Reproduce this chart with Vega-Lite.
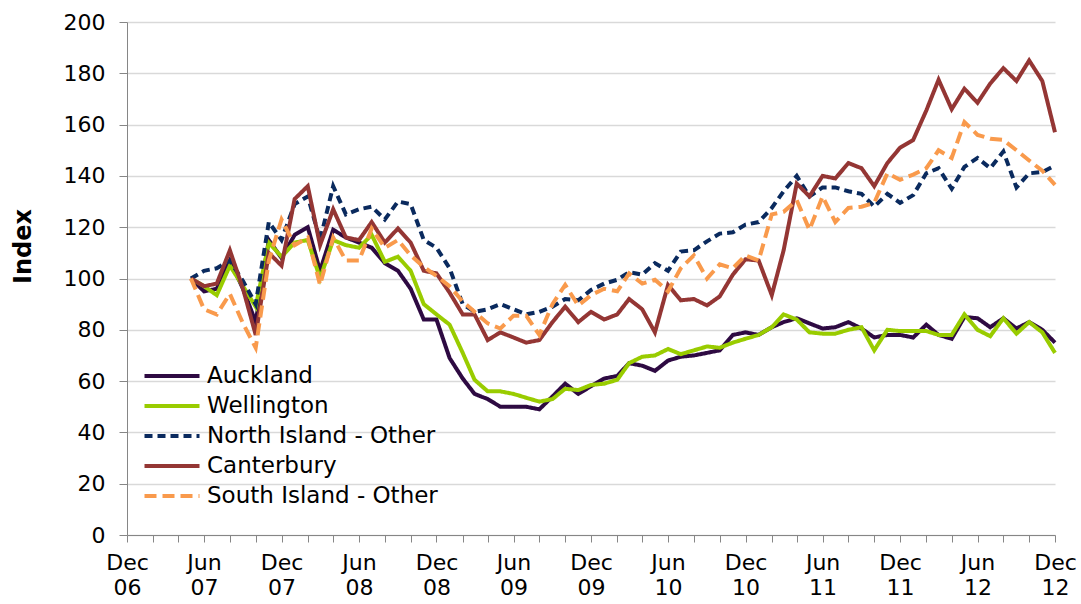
{
  "$schema": "https://vega.github.io/schema/vega-lite/v6.json",
  "width": 928,
  "height": 513,
  "autosize": {"type": "none"},
  "padding": {"left": 127, "top": 22, "right": 26, "bottom": 69},
  "background": "white",
  "config": {"view": {"stroke": null}, "font": "DejaVu Sans"},
  "data": {
    "values": [
      {"month": "2007-05-01", "Auckland": 100, "Wellington": 100, "North Island - Other": 100, "Canterbury": 100, "South Island - Other": 100},
      {"month": "2007-06-01", "Auckland": 95, "Wellington": 97, "North Island - Other": 103, "Canterbury": 97, "South Island - Other": 88},
      {"month": "2007-07-01", "Auckland": 96, "Wellington": 93.5, "North Island - Other": 104, "Canterbury": 98, "South Island - Other": 86},
      {"month": "2007-08-01", "Auckland": 107, "Wellington": 105, "North Island - Other": 107, "Canterbury": 111, "South Island - Other": 94},
      {"month": "2007-09-01", "Auckland": 96, "Wellington": 97, "North Island - Other": 99, "Canterbury": 96, "South Island - Other": 82.5},
      {"month": "2007-10-01", "Auckland": 83, "Wellington": 89, "North Island - Other": 90, "Canterbury": 78, "South Island - Other": 73},
      {"month": "2007-11-01", "Auckland": 115, "Wellington": 114, "North Island - Other": 122, "Canterbury": 110, "South Island - Other": 107},
      {"month": "2007-12-01", "Auckland": 108, "Wellington": 108.5, "North Island - Other": 115, "Canterbury": 105, "South Island - Other": 123},
      {"month": "2008-01-01", "Auckland": 117, "Wellington": 114, "North Island - Other": 129, "Canterbury": 131, "South Island - Other": 113},
      {"month": "2008-02-01", "Auckland": 120, "Wellington": 115, "North Island - Other": 132, "Canterbury": 136, "South Island - Other": 116},
      {"month": "2008-03-01", "Auckland": 103, "Wellington": 100, "North Island - Other": 115, "Canterbury": 113, "South Island - Other": 97.5},
      {"month": "2008-04-01", "Auckland": 119, "Wellington": 115, "North Island - Other": 136, "Canterbury": 127, "South Island - Other": 116},
      {"month": "2008-05-01", "Auckland": 116, "Wellington": 113, "North Island - Other": 125, "Canterbury": 116, "South Island - Other": 107},
      {"month": "2008-06-01", "Auckland": 114, "Wellington": 112, "North Island - Other": 127, "Canterbury": 115, "South Island - Other": 107},
      {"month": "2008-07-01", "Auckland": 112, "Wellington": 117, "North Island - Other": 128, "Canterbury": 122, "South Island - Other": 119.5},
      {"month": "2008-08-01", "Auckland": 106, "Wellington": 106.5, "North Island - Other": 123, "Canterbury": 114, "South Island - Other": 112},
      {"month": "2008-09-01", "Auckland": 103, "Wellington": 108.5, "North Island - Other": 130, "Canterbury": 119.5, "South Island - Other": 115},
      {"month": "2008-10-01", "Auckland": 96, "Wellington": 103, "North Island - Other": 129, "Canterbury": 114, "South Island - Other": 109},
      {"month": "2008-11-01", "Auckland": 84, "Wellington": 90, "North Island - Other": 115, "Canterbury": 103, "South Island - Other": 104.5},
      {"month": "2008-12-01", "Auckland": 84, "Wellington": 86, "North Island - Other": 112, "Canterbury": 102, "South Island - Other": 101},
      {"month": "2009-01-01", "Auckland": 69, "Wellington": 82, "North Island - Other": 104, "Canterbury": 94.5, "South Island - Other": 97},
      {"month": "2009-02-01", "Auckland": 61, "Wellington": 71, "North Island - Other": 90, "Canterbury": 86, "South Island - Other": 91},
      {"month": "2009-03-01", "Auckland": 55, "Wellington": 60.5, "North Island - Other": 87, "Canterbury": 86, "South Island - Other": 87},
      {"month": "2009-04-01", "Auckland": 53, "Wellington": 56, "North Island - Other": 88, "Canterbury": 76, "South Island - Other": 82.5},
      {"month": "2009-05-01", "Auckland": 50, "Wellington": 56, "North Island - Other": 90, "Canterbury": 79, "South Island - Other": 80.5},
      {"month": "2009-06-01", "Auckland": 50, "Wellington": 55, "North Island - Other": 88, "Canterbury": 77, "South Island - Other": 85.5},
      {"month": "2009-07-01", "Auckland": 50, "Wellington": 53.5, "North Island - Other": 86, "Canterbury": 75, "South Island - Other": 85.5},
      {"month": "2009-08-01", "Auckland": 49, "Wellington": 52, "North Island - Other": 87, "Canterbury": 76, "South Island - Other": 78},
      {"month": "2009-09-01", "Auckland": 54, "Wellington": 53, "North Island - Other": 89, "Canterbury": 83, "South Island - Other": 90},
      {"month": "2009-10-01", "Auckland": 59, "Wellington": 57, "North Island - Other": 92, "Canterbury": 89, "South Island - Other": 97.5},
      {"month": "2009-11-01", "Auckland": 55, "Wellington": 56.5, "North Island - Other": 91.5, "Canterbury": 83, "South Island - Other": 89.5},
      {"month": "2009-12-01", "Auckland": 58, "Wellington": 58.5, "North Island - Other": 95.5, "Canterbury": 87, "South Island - Other": 93.5},
      {"month": "2010-01-01", "Auckland": 61, "Wellington": 59, "North Island - Other": 98, "Canterbury": 84, "South Island - Other": 96},
      {"month": "2010-02-01", "Auckland": 62, "Wellington": 60.5, "North Island - Other": 99.5, "Canterbury": 86, "South Island - Other": 95},
      {"month": "2010-03-01", "Auckland": 67, "Wellington": 67, "North Island - Other": 102.5, "Canterbury": 92, "South Island - Other": 102},
      {"month": "2010-04-01", "Auckland": 66, "Wellington": 69.5, "North Island - Other": 101.5, "Canterbury": 88, "South Island - Other": 98},
      {"month": "2010-05-01", "Auckland": 64, "Wellington": 70, "North Island - Other": 106, "Canterbury": 79, "South Island - Other": 99.5},
      {"month": "2010-06-01", "Auckland": 68, "Wellington": 72.5, "North Island - Other": 103, "Canterbury": 97.5, "South Island - Other": 95},
      {"month": "2010-07-01", "Auckland": 69.5, "Wellington": 70.5, "North Island - Other": 110.5, "Canterbury": 91.5, "South Island - Other": 104},
      {"month": "2010-08-01", "Auckland": 70, "Wellington": 72, "North Island - Other": 111, "Canterbury": 92, "South Island - Other": 109},
      {"month": "2010-09-01", "Auckland": 71, "Wellington": 73.5, "North Island - Other": 114.5, "Canterbury": 89.5, "South Island - Other": 100},
      {"month": "2010-10-01", "Auckland": 72, "Wellington": 73, "North Island - Other": 117.5, "Canterbury": 93, "South Island - Other": 105.5},
      {"month": "2010-11-01", "Auckland": 78, "Wellington": 75, "North Island - Other": 118, "Canterbury": 101.5, "South Island - Other": 104},
      {"month": "2010-12-01", "Auckland": 79, "Wellington": 76.5, "North Island - Other": 121, "Canterbury": 107.5, "South Island - Other": 109},
      {"month": "2011-01-01", "Auckland": 78, "Wellington": 78, "North Island - Other": 122, "Canterbury": 107, "South Island - Other": 107},
      {"month": "2011-02-01", "Auckland": 81, "Wellington": 81, "North Island - Other": 127.5, "Canterbury": 93.5, "South Island - Other": 125},
      {"month": "2011-03-01", "Auckland": 83, "Wellington": 86, "North Island - Other": 134, "Canterbury": 111, "South Island - Other": 126},
      {"month": "2011-04-01", "Auckland": 84.5, "Wellington": 84, "North Island - Other": 140, "Canterbury": 137, "South Island - Other": 130.5},
      {"month": "2011-05-01", "Auckland": 82.5, "Wellington": 79, "North Island - Other": 132, "Canterbury": 132, "South Island - Other": 119},
      {"month": "2011-06-01", "Auckland": 80.5, "Wellington": 78.5, "North Island - Other": 135.5, "Canterbury": 140, "South Island - Other": 132},
      {"month": "2011-07-01", "Auckland": 81, "Wellington": 78.5, "North Island - Other": 135.5, "Canterbury": 139, "South Island - Other": 122},
      {"month": "2011-08-01", "Auckland": 83, "Wellington": 80, "North Island - Other": 134, "Canterbury": 145, "South Island - Other": 127.5},
      {"month": "2011-09-01", "Auckland": 80.5, "Wellington": 81, "North Island - Other": 133, "Canterbury": 143, "South Island - Other": 128},
      {"month": "2011-10-01", "Auckland": 77, "Wellington": 72, "North Island - Other": 128, "Canterbury": 136, "South Island - Other": 129.5},
      {"month": "2011-11-01", "Auckland": 78, "Wellington": 80, "North Island - Other": 133, "Canterbury": 145, "South Island - Other": 141},
      {"month": "2011-12-01", "Auckland": 78, "Wellington": 79.5, "North Island - Other": 129.5, "Canterbury": 151, "South Island - Other": 138.5},
      {"month": "2012-01-01", "Auckland": 77, "Wellington": 79.5, "North Island - Other": 132.5, "Canterbury": 154, "South Island - Other": 140.5},
      {"month": "2012-02-01", "Auckland": 82, "Wellington": 79.5, "North Island - Other": 141, "Canterbury": 165.5, "South Island - Other": 143},
      {"month": "2012-03-01", "Auckland": 78, "Wellington": 78, "North Island - Other": 143, "Canterbury": 177.5, "South Island - Other": 150},
      {"month": "2012-04-01", "Auckland": 76.5, "Wellington": 78, "North Island - Other": 135, "Canterbury": 166, "South Island - Other": 147},
      {"month": "2012-05-01", "Auckland": 85, "Wellington": 86, "North Island - Other": 143.5, "Canterbury": 174, "South Island - Other": 161},
      {"month": "2012-06-01", "Auckland": 84.5, "Wellington": 80, "North Island - Other": 147, "Canterbury": 168.5, "South Island - Other": 156},
      {"month": "2012-07-01", "Auckland": 81, "Wellington": 77.5, "North Island - Other": 143, "Canterbury": 176, "South Island - Other": 154.5},
      {"month": "2012-08-01", "Auckland": 84.5, "Wellington": 84.5, "North Island - Other": 149.5, "Canterbury": 182, "South Island - Other": 154},
      {"month": "2012-09-01", "Auckland": 80.5, "Wellington": 78.5, "North Island - Other": 135.5, "Canterbury": 177, "South Island - Other": 150},
      {"month": "2012-10-01", "Auckland": 83, "Wellington": 83, "North Island - Other": 141, "Canterbury": 185, "South Island - Other": 146},
      {"month": "2012-11-01", "Auckland": 80, "Wellington": 79, "North Island - Other": 141.5, "Canterbury": 177, "South Island - Other": 142},
      {"month": "2012-12-01", "Auckland": 75, "Wellington": 71, "North Island - Other": 144, "Canterbury": 157, "South Island - Other": 136.5}
    ]
  },
  "transform": [
    {"fold": ["Auckland", "Wellington", "North Island - Other", "Canterbury", "South Island - Other"], "as": ["series", "index"]}
  ],
  "mark": {"type": "line", "strokeWidth": 4},
  "encoding": {
    "x": {
      "field": "month",
      "type": "temporal",
      "scale": {
        "type": "utc",
        "domain": [
          {"year": 2006, "month": 12, "date": 1, "utc": true},
          {"year": 2012, "month": 12, "date": 1, "utc": true}
        ]
      },
      "axis": {
        "title": null,
        "grid": false,
        "values": [
          {"year": 2006, "month": 12, "date": 1, "utc": true},
          {"year": 2007, "month": 2, "date": 1, "utc": true},
          {"year": 2007, "month": 4, "date": 1, "utc": true},
          {"year": 2007, "month": 6, "date": 1, "utc": true},
          {"year": 2007, "month": 8, "date": 1, "utc": true},
          {"year": 2007, "month": 10, "date": 1, "utc": true},
          {"year": 2007, "month": 12, "date": 1, "utc": true},
          {"year": 2008, "month": 2, "date": 1, "utc": true},
          {"year": 2008, "month": 4, "date": 1, "utc": true},
          {"year": 2008, "month": 6, "date": 1, "utc": true},
          {"year": 2008, "month": 8, "date": 1, "utc": true},
          {"year": 2008, "month": 10, "date": 1, "utc": true},
          {"year": 2008, "month": 12, "date": 1, "utc": true},
          {"year": 2009, "month": 2, "date": 1, "utc": true},
          {"year": 2009, "month": 4, "date": 1, "utc": true},
          {"year": 2009, "month": 6, "date": 1, "utc": true},
          {"year": 2009, "month": 8, "date": 1, "utc": true},
          {"year": 2009, "month": 10, "date": 1, "utc": true},
          {"year": 2009, "month": 12, "date": 1, "utc": true},
          {"year": 2010, "month": 2, "date": 1, "utc": true},
          {"year": 2010, "month": 4, "date": 1, "utc": true},
          {"year": 2010, "month": 6, "date": 1, "utc": true},
          {"year": 2010, "month": 8, "date": 1, "utc": true},
          {"year": 2010, "month": 10, "date": 1, "utc": true},
          {"year": 2010, "month": 12, "date": 1, "utc": true},
          {"year": 2011, "month": 2, "date": 1, "utc": true},
          {"year": 2011, "month": 4, "date": 1, "utc": true},
          {"year": 2011, "month": 6, "date": 1, "utc": true},
          {"year": 2011, "month": 8, "date": 1, "utc": true},
          {"year": 2011, "month": 10, "date": 1, "utc": true},
          {"year": 2011, "month": 12, "date": 1, "utc": true},
          {"year": 2012, "month": 2, "date": 1, "utc": true},
          {"year": 2012, "month": 4, "date": 1, "utc": true},
          {"year": 2012, "month": 6, "date": 1, "utc": true},
          {"year": 2012, "month": 8, "date": 1, "utc": true},
          {"year": 2012, "month": 10, "date": 1, "utc": true},
          {"year": 2012, "month": 12, "date": 1, "utc": true}
        ],
        "labelExpr": "(utcmonth(datum.value) == 11 || utcmonth(datum.value) == 5) ? [utcFormat(datum.value, '%b'), utcFormat(datum.value, '%y')] : ''",
        "labelFontSize": 22,
        "labelColor": "black",
        "labelLineHeight": 25,
        "labelPadding": 10,
        "labelOverlap": false,
        "labelFlush": false,
        "labelBound": false,
        "tickSize": 7,
        "tickColor": "#868686",
        "domainColor": "#868686"
      }
    },
    "y": {
      "field": "index",
      "type": "quantitative",
      "scale": {"domain": [0, 200], "nice": false},
      "axis": {
        "values": [0, 20, 40, 60, 80, 100, 120, 140, 160, 180, 200],
        "title": "Index",
        "titleFontSize": 24,
        "titleFontWeight": "bold",
        "titleColor": "black",
        "titlePadding": 28,
        "titleY": 224,
        "labelFontSize": 22,
        "labelColor": "black",
        "labelPadding": 14,
        "tickSize": 8,
        "tickColor": "#868686",
        "domainColor": "#868686",
        "gridColor": "#d9d9d9",
        "gridWidth": 1.5
      }
    },
    "color": {
      "field": "series",
      "type": "nominal",
      "scale": {
        "domain": ["Auckland", "Wellington", "North Island - Other", "Canterbury", "South Island - Other"],
        "range": ["#2e0a42", "#99cc00", "#0a2a5e", "#943634", "#f99a4c"]
      },
      "legend": {
        "title": null,
        "orient": "none",
        "legendX": 32,
        "legendY": 341,
        "symbolType": "M-2.5,0H2.5",
        "symbolSize": 484,
        "symbolStrokeWidth": 4,
        "labelFontSize": 23,
        "labelColor": "black",
        "labelOffset": 22,
        "rowPadding": 5,
        "labelLimit": 400,
        "padding": 0
      }
    },
    "strokeDash": {
      "field": "series",
      "type": "nominal",
      "scale": {
        "domain": ["Auckland", "Wellington", "North Island - Other", "Canterbury", "South Island - Other"],
        "range": [[1, 0], [1, 0], [8, 5], [1, 0], [12, 6]]
      },
      "legend": {
        "title": null,
        "orient": "none",
        "legendX": 32,
        "legendY": 341,
        "symbolType": "M-2.5,0H2.5",
        "symbolSize": 484,
        "symbolStrokeWidth": 4,
        "labelFontSize": 23,
        "labelColor": "black",
        "labelOffset": 22,
        "rowPadding": 5,
        "labelLimit": 400,
        "padding": 0
      }
    }
  }
}
